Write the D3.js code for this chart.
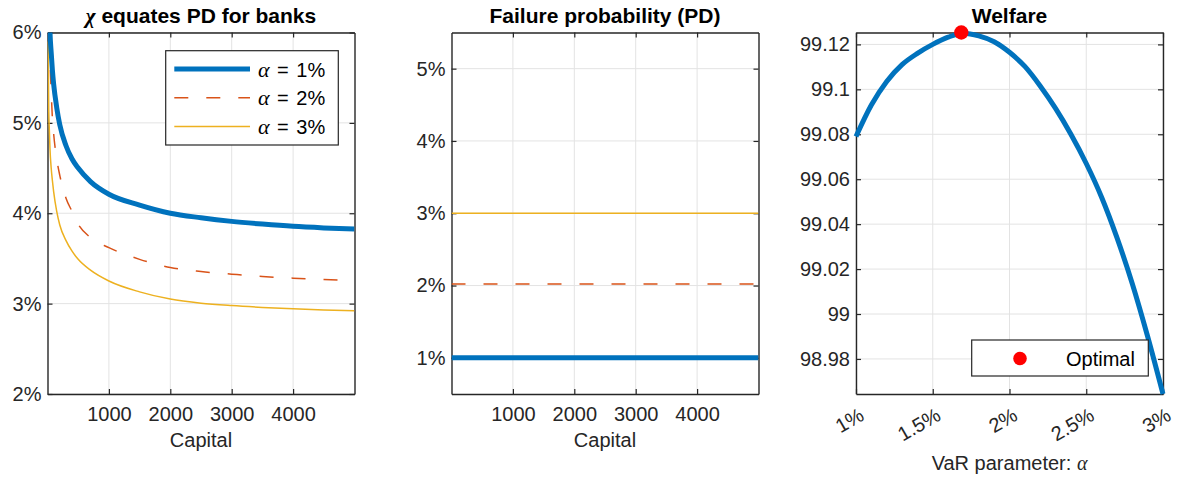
<!DOCTYPE html>
<html>
<head>
<meta charset="utf-8">
<script src="https://cdn.jsdelivr.net/npm/d3@7"></script>
<style>
  body { margin: 0; background: #fff; }
  svg { display: block; }
</style>
</head>
<body>
<script>
// ---------------- DATA ----------------
const capital   = [10, 20, 30, 40, 60, 80, 100, 150, 200, 300, 400, 500, 700, 1000, 1500, 2000, 2500, 3000, 3500, 4000, 4500, 5000];
const chiAlpha1 = [7.6, 6.8, 6.3, 6.02, 5.78, 5.58, 5.43, 5.17, 4.98, 4.75, 4.60, 4.50, 4.35, 4.21, 4.09, 4.00, 3.95, 3.91, 3.88, 3.855, 3.838, 3.825];
const chiAlpha2 = [7.0, 6.4, 6.0, 5.72, 5.35, 5.05, 4.88, 4.60, 4.42, 4.17, 4.02, 3.88, 3.73, 3.62, 3.49, 3.40, 3.355, 3.326, 3.30, 3.282, 3.268, 3.256];
const chiAlpha3 = [5.9, 5.15, 4.92, 4.72, 4.50, 4.36, 4.24, 4.02, 3.87, 3.70, 3.58, 3.49, 3.37, 3.25, 3.13, 3.05, 3.005, 2.978, 2.958, 2.942, 2.93, 2.92];

const pdCapital = [0, 1000, 2000, 3000, 4000, 5000];
const pdAlpha1  = [1.0, 1.0, 1.0, 1.0, 1.0, 1.0];
const pdAlpha2  = [2.02, 2.02, 2.02, 2.02, 2.02, 2.02];
const pdAlpha3  = [3.0, 3.0, 3.0, 3.0, 3.0, 3.0];

const alphaGrid = [1.0, 1.1, 1.2, 1.3, 1.4, 1.5, 1.6, 1.7, 1.8, 1.9, 2.0, 2.1, 2.2, 2.3, 2.4, 2.5, 2.6, 2.7, 2.8, 2.9, 3.0];
const welfare   = [99.079, 99.093, 99.1035, 99.111, 99.116, 99.120, 99.1232, 99.125, 99.1238, 99.1212, 99.1165, 99.1102, 99.1015, 99.0915, 99.080, 99.067, 99.052, 99.034, 99.0135, 98.990, 98.9644];
const optAlpha   = [1.686];
const optWelfare = [99.1253];

const alphaLabels   = ["1%", "2%", "3%"];
const capitalTicks  = [1000, 2000, 3000, 4000];
const chiTicks      = [2, 3, 4, 5, 6];
const pdTicks       = [1, 2, 3, 4, 5];
const alphaTicks    = [1, 1.5, 2, 2.5, 3];
const welfareTicks  = [98.98, 99, 99.02, 99.04, 99.06, 99.08, 99.1, 99.12];

const titles = ["equates PD for banks", "Failure probability (PD)", "Welfare"];

// ---------------- STYLE ----------------
const W = 1179, H = 477;
const TOP = 32.5, BOT = 394, PW = 307;
const LEFTS = [47.5, 451.5, 856];
const COLORS = ["#0072BD", "#D95319", "#EDB120"];
const AXC = "#262626", GRID = "#e3e3e3";
const SANS = "'Liberation Sans', Arial, Helvetica, sans-serif";
const SERIF = "'Liberation Serif', 'DejaVu Serif', serif";
const widths = [5, 1.5, 1.5];
const dashes = [null, "14,18", null];

const svg = d3.select("body").append("svg").attr("width", W).attr("height", H);
const defs = svg.append("defs");

function panel(i, xDomain, yDomain, xTicks, yTicks) {
  const left = LEFTS[i];
  const x = d3.scaleLinear().domain(xDomain).range([left, left + PW]);
  const y = d3.scaleLinear().domain(yDomain).range([BOT, TOP]);
  const g = svg.append("g");
  g.append("g").selectAll("line").data(xTicks).join("line")
    .attr("x1", d => x(d)).attr("x2", d => x(d)).attr("y1", TOP).attr("y2", BOT)
    .attr("stroke", GRID).attr("stroke-width", 1);
  g.append("g").selectAll("line").data(yTicks).join("line")
    .attr("y1", d => y(d)).attr("y2", d => y(d)).attr("x1", left).attr("x2", left + PW)
    .attr("stroke", GRID).attr("stroke-width", 1);
  defs.append("clipPath").attr("id", "clip" + i).append("rect")
    .attr("x", left).attr("y", TOP).attr("width", PW).attr("height", BOT - TOP);
  return { x, y, g, left, clip: "url(#clip" + i + ")" };
}

function axes(p, xTicks, yTicks, xFmt, yFmt) {
  const style = sel => {
    sel.attr("font-size", 20).attr("font-family", SANS);
    sel.selectAll("path").attr("stroke", AXC).attr("stroke-width", 1.4);
    sel.selectAll("line").attr("stroke", AXC).attr("stroke-width", 1.2);
    sel.selectAll("text").attr("fill", AXC);
    return sel;
  };
  const blank = () => "";
  const b = p.g.append("g").attr("transform", `translate(0,${BOT})`)
    .call(d3.axisBottom(p.x).tickValues(xTicks).tickFormat(xFmt).tickSizeInner(-5).tickSizeOuter(0).tickPadding(13));
  style(b);
  style(p.g.append("g").attr("transform", `translate(0,${TOP})`)
    .call(d3.axisTop(p.x).tickValues(xTicks).tickFormat(blank).tickSizeInner(-5).tickSizeOuter(0)));
  style(p.g.append("g").attr("transform", `translate(${p.left},0)`)
    .call(d3.axisLeft(p.y).tickValues(yTicks).tickFormat(yFmt).tickSizeInner(-5).tickSizeOuter(0).tickPadding(6)));
  style(p.g.append("g").attr("transform", `translate(${p.left + PW},0)`)
    .call(d3.axisRight(p.y).tickValues(yTicks).tickFormat(blank).tickSizeInner(-5).tickSizeOuter(0)));
  return b;
}

const pct = d => d + "%";

function title(p, txt, withChi) {
  const t = svg.append("text").attr("x", p.left + PW / 2).attr("y", 23)
    .attr("text-anchor", "middle").attr("font-family", SANS).attr("font-weight", "bold")
    .attr("font-size", 21).attr("fill", "#000");
  if (withChi) {
    t.append("tspan").attr("font-family", SERIF).attr("font-style", "italic").text("χ");
    t.append("tspan").text(" " + txt);
  } else t.text(txt);
}

function xlabel(p, parts, yy) {
  const t = svg.append("text").attr("x", p.left + PW / 2).attr("y", yy)
    .attr("text-anchor", "middle").attr("font-family", SANS).attr("font-size", 20).attr("fill", AXC);
  parts.forEach(([s, serif]) => {
    const ts = t.append("tspan").text(s);
    if (serif) ts.attr("font-family", SERIF).attr("font-style", "italic");
  });
}

// ---------------- PANEL 1 ----------------
const p1 = panel(0, [0, 5000], [2, 6], capitalTicks, chiTicks);
axes(p1, capitalTicks, chiTicks, d => d, pct);
const chiSeries = [chiAlpha1, chiAlpha2, chiAlpha3];
[2, 1, 0].forEach(k => {
  const line = d3.line().x((d, j) => p1.x(capital[j])).y(d => p1.y(d)).curve(d3.curveMonotoneX);
  p1.g.append("path").datum(chiSeries[k]).attr("d", line).attr("clip-path", p1.clip)
    .attr("fill", "none").attr("stroke", COLORS[k]).attr("stroke-width", widths[k])
    .attr("stroke-dasharray", dashes[k]).attr("stroke-linejoin", "round");
});
title(p1, titles[0], true);
xlabel(p1, [["Capital", false]], 447);

// legend panel 1
const lg = svg.append("g");
lg.append("rect").attr("x", 165.7).attr("y", 50.7).attr("width", 172.6).attr("height", 94.3)
  .attr("fill", "#fff").attr("stroke", AXC).attr("stroke-width", 1.2);
alphaLabels.forEach((lab, k) => {
  const yy = 69 + k * 28.8;
  lg.append("line").attr("x1", 174.3).attr("x2", 250).attr("y1", yy).attr("y2", yy)
    .attr("stroke", COLORS[k]).attr("stroke-width", widths[k]).attr("stroke-dasharray", dashes[k]);
  const t = lg.append("text").attr("x", 258).attr("y", yy + 7.5).attr("font-size", 20)
    .attr("font-family", SANS).attr("fill", "#000");
  t.append("tspan").attr("font-family", SERIF).attr("font-style", "italic").attr("font-size", 22).text("α");
  t.append("tspan").attr("dx", 2).text(" = ");
  t.append("tspan").attr("dx", 2).text(lab);
});

// ---------------- PANEL 2 ----------------
const p2 = panel(1, [0, 5000], [0.5, 5.5], capitalTicks, pdTicks);
axes(p2, capitalTicks, pdTicks, d => d, pct);
const pdSeries = [pdAlpha1, pdAlpha2, pdAlpha3];
[2, 1, 0].forEach(k => {
  const line = d3.line().x((d, j) => p2.x(pdCapital[j])).y(d => p2.y(d));
  p2.g.append("path").datum(pdSeries[k]).attr("d", line).attr("clip-path", p2.clip)
    .attr("fill", "none").attr("stroke", COLORS[k]).attr("stroke-width", widths[k])
    .attr("stroke-dasharray", dashes[k]);
});
title(p2, titles[1], false);
xlabel(p2, [["Capital", false]], 447);

// ---------------- PANEL 3 ----------------
const p3 = panel(2, [1, 3], [98.9644, 99.1253], alphaTicks, welfareTicks);
const bx = axes(p3, alphaTicks, welfareTicks, pct, d => String(+d.toFixed(2)));
bx.selectAll(".tick text").attr("y", 0).attr("dy", 0).attr("text-anchor", "end")
  .attr("transform", "translate(9,25) rotate(-30)");
const wLine = d3.line().x((d, j) => p3.x(alphaGrid[j])).y(d => p3.y(d)).curve(d3.curveMonotoneX);
p3.g.append("path").datum(welfare).attr("d", wLine)
  .attr("fill", "none").attr("stroke", COLORS[0]).attr("stroke-width", 5).attr("stroke-linejoin", "round");
p3.g.selectAll("circle.opt").data(optAlpha).join("circle").attr("class", "opt")
  .attr("cx", d => p3.x(d)).attr("cy", (d, j) => p3.y(optWelfare[j])).attr("r", 7.2).attr("fill", "#ff0000");
title(p3, titles[2], false);
xlabel(p3, [["VaR parameter: ", false], ["α", true]], 470);

// legend panel 3
const lg3 = svg.append("g");
lg3.append("rect").attr("x", 971.7).attr("y", 340).attr("width", 176.6).attr("height", 36)
  .attr("fill", "#fff").attr("stroke", AXC).attr("stroke-width", 1.2);
lg3.append("circle").attr("cx", 1020).attr("cy", 358.5).attr("r", 6.8).attr("fill", "#ff0000");
lg3.append("text").attr("x", 1066).attr("y", 365.5).attr("font-size", 20).attr("font-family", SANS)
  .attr("fill", "#000").text("Optimal");
</script>
</body>
</html>
